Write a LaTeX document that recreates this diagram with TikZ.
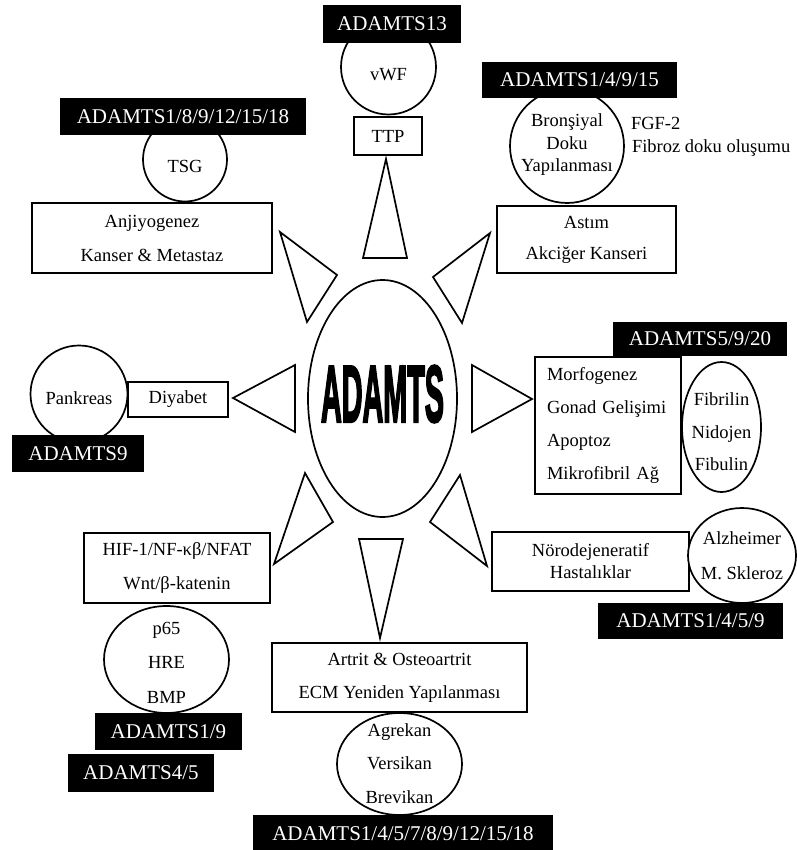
\documentclass[tikz,border=0pt]{standalone}
\usepackage{fontspec}
\usepackage{graphicx}
\setmainfont{Liberation Serif}
\setsansfont{Liberation Sans}
\newfontfamily\heavyfont{Liberation Sans Bold}[FakeBold=3.5]
\usetikzlibrary{shapes.geometric}
\begin{document}
\begin{tikzpicture}[x=1pt,y=-1pt, line width=1.7pt,
  every node/.style={inner sep=0pt, outer sep=0pt},
  blk/.style={rectangle, fill=black, text=white, font=\fontsize{21}{24}\selectfont},
  wbox/.style={rectangle, draw=black, fill=white, align=center},
  oval/.style={ellipse, draw=black, fill=white},
  txt/.style={font=\fontsize{18.5}{22}\selectfont},
  ray/.style={draw=black, fill=white, line join=miter}
]
\fill[white] (0,0) rectangle (796,850);
\useasboundingbox (0,0) rectangle (796,850);

% rays
\draw[ray] (386,159) -- (363,258) -- (407,258) -- cycle;
\draw[ray] (280,232) -- (337,275) -- (307,322) -- cycle;
\draw[ray] (490,233) -- (433,277) -- (462,323) -- cycle;
\draw[ray] (233,398) -- (295,365) -- (295,432) -- cycle;
\draw[ray] (532,399) -- (472,365) -- (472,432) -- cycle;
\draw[ray] (274,564) -- (305,473) -- (333,522) -- cycle;
\draw[ray] (487,566) -- (460,475) -- (430,522) -- cycle;
\draw[ray] (380,638) -- (359,539) -- (403,539) -- cycle;

% centre
\node[oval, minimum width=149pt, minimum height=237pt] (core) at (382.5,398.5) {};
\node (coretext) at (382.5,394) {\resizebox{123pt}{56pt}{\heavyfont ADAMTS}};

% top
\node[oval, minimum size=95pt] (vwf) at (388.5,67) {};
\node[txt] (vwft) at (388.5,75) {vWF};
\node[blk, minimum width=138pt, minimum height=38pt] (l13) at (392,24) {ADAMTS13};
\node[wbox, txt, minimum width=68pt, minimum height=38pt] (ttp) at (388,136) {TTP};

% upper left
\node[oval, minimum size=84pt] (tsg) at (185,159.5) {};
\node[txt] (tsgt) at (185,166) {TSG};
\node[blk, minimum width=246pt, minimum height=37pt] (l1) at (183,116.5) {ADAMTS1/8/9/12/15/18};
\node[wbox, font=\fontsize{18.5}{34}\selectfont, minimum width=240pt, minimum height=70pt] (anj) at (152,238) {Anjiyogenez\\Kanser \& Metastaz};

% upper right
\node[oval, minimum size=114pt] (bron) at (567,146) {};
\node[font=\fontsize{18.5}{22.5}\selectfont, align=center] (bront) at (567,145) {Bronşiyal\\Doku\\Yapılanması};
\node[blk, minimum width=195pt, minimum height=36pt] (l2) at (579.5,80) {ADAMTS1/4/9/15};
\node[txt, anchor=west] (fgf) at (631,123) {FGF-2};
\node[txt, anchor=west] (fib) at (632,148) {Fibroz doku oluşumu};
\node[wbox, font=\fontsize{18.5}{31}\selectfont, minimum width=179pt, minimum height=67pt] (ast) at (586.5,239.5) {Astım\\Akciğer Kanseri};

% left
\node[oval, minimum size=97pt] (pank) at (79,394) {};
\node[txt] (pankt) at (79,398) {Pankreas};
\node[blk, minimum width=132pt, minimum height=37pt] (l9) at (78,453.5) {ADAMTS9};
\node[wbox, txt, minimum width=100pt, minimum height=35pt] (diy) at (178,399.5) {Diyabet};

% right
\node[blk, minimum width=174pt, minimum height=34pt] (l5) at (700,339) {ADAMTS5/9/20};
\node[wbox, font=\fontsize{18.5}{33.3}\selectfont, minimum width=146pt, minimum height=137pt, text width=122pt, inner xsep=12pt, align=left] (morf) at (608,425.5) {Morfogenez\\Gonad Gelişimi\\Apoptoz\\Mikrofibril Ağ};
\node[oval, minimum width=79pt, minimum height=130pt] (fibr) at (721.5,427) {};
\node[font=\fontsize{18.5}{32.5}\selectfont, align=center] (fibrt) at (721.5,432) {Fibrilin\\Nidojen\\Fibulin};

% lower right
\node[wbox, font=\fontsize{18.5}{22}\selectfont, minimum width=197pt, minimum height=59pt] (noro) at (590.5,561.5) {Nörodejeneratif\\Hastalıklar};
\node[oval, minimum width=108pt, minimum height=95pt] (alz) at (742,555.5) {};
\node[font=\fontsize{18.5}{35}\selectfont, align=center] (alzt) at (742,556) {Alzheimer\\M. Skleroz};
\node[blk, minimum width=185pt, minimum height=36pt] (l1459) at (690.5,621) {ADAMTS1/4/5/9};

% lower left
\node[wbox, font=\fontsize{18.5}{34}\selectfont, minimum width=186pt, minimum height=70pt] (hif) at (177,568) {HIF-1/NF-κβ/NFAT\\Wnt/β-katenin};
\node[oval, minimum width=125pt, minimum height=107pt] (p65) at (166.5,659.5) {};
\node[font=\fontsize{18.5}{34.5}\selectfont, align=center] (p65t) at (166.5,662.5) {p65\\HRE\\BMP};
\node[blk, minimum width=147pt, minimum height=37pt] (l19) at (168.5,731.5) {ADAMTS1/9};
\node[blk, minimum width=146pt, minimum height=38pt] (l45) at (141,773) {ADAMTS4/5};

% bottom
\node[wbox, font=\fontsize{18.5}{33}\selectfont, minimum width=255pt, minimum height=69pt] (art) at (399.5,677.5) {Artrit \& Osteoartrit\\ECM Yeniden Yapılanması};
\node[oval, minimum width=125pt, minimum height=102pt] (agr) at (399.5,764) {};
\node[font=\fontsize{18.5}{33.5}\selectfont, align=center] (agrt) at (399.5,763.5) {Agrekan\\Versikan\\Brevikan};
\node[blk, minimum width=300pt, minimum height=38pt] (lbig) at (403,834) {ADAMTS1/4/5/7/8/9/12/15/18};
\end{tikzpicture}
\end{document}
